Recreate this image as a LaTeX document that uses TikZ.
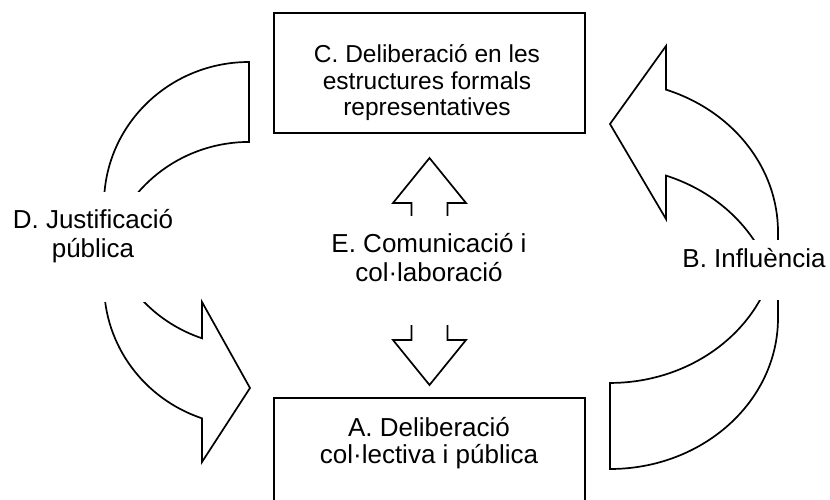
\documentclass[tikz,border=0pt]{standalone}
\usepackage{fontspec}
\setmainfont{Liberation Sans}
\begin{document}
\begin{tikzpicture}[x=1pt,y=-1pt,
  outline/.style={draw=black, line width=1.7pt, line join=miter},
  mask/.style={fill=white, draw=none},
  boxnode/.style={draw=black, line width=1.7pt, inner sep=0pt, outer sep=0pt, anchor=north west, minimum width=311pt, minimum height=120pt},
  lbl/.style={inner sep=0pt, align=center, anchor=base, font=\fontsize{26}{29}\selectfont}]
\useasboundingbox (0,0) rectangle (830,500);
\clip (0,0) rectangle (830,500);
% boxes
\node[boxnode] (Cbox) at (274,13) {};
\node[boxnode] (Abox) at (274,398) {};
% left curved arrow (D)
\draw[outline] (249,62) arc[start angle=270, end angle=180, x radius=145, y radius=142]
  -- (104,284) arc[start angle=180, end angle=108.91, x radius=145, y radius=142]
  -- (202,462) -- (250,388) -- (202,302) -- (202,338.3)
  arc[start angle=108.91, end angle=163.64, x radius=145, y radius=142]
  arc[start angle=196.36, end angle=270, x radius=145, y radius=142] -- cycle;
% right curved arrow (B)
\draw[outline] (610,469) arc[start angle=90, end angle=0, x radius=168, y radius=151]
  -- (778,232) arc[start angle=0, end angle=-70.53, x radius=168, y radius=151]
  -- (666,46) -- (610,124) -- (666,219) -- (666,175.6)
  arc[start angle=-70.53, end angle=-16.55, x radius=168, y radius=151]
  arc[start angle=16.55, end angle=90, x radius=168, y radius=151] -- cycle;
% middle up-down arrow (E)
\draw[outline] (429.5,158) -- (466,203) -- (447.5,203) -- (447.5,340) -- (466,340)
  -- (429.5,385) -- (393,340) -- (411.5,340) -- (411.5,203) -- (393,203) -- cycle;
% masks under the labels
\fill[mask] (0,192) rectangle (190,302);
\fill[mask] (680,240) rectangle (830,300);
\fill[mask] (300,216) rectangle (560,325);
% labels (anchor base = baseline of the last line)
\node[lbl, font=\fontsize{24.5}{26.5}\selectfont] (C) at (427,116) {C. Deliberació en les\\estructures formals\\representatives};
\node[lbl, font=\fontsize{26}{26.7}\selectfont] (A) at (429,463) {A. Deliberació\\col·lectiva i pública};
\node[lbl] (D) at (93,257.5) {D. Justificació\\pública};
\node[lbl] (E) at (429,281) {E. Comunicació i\\col·laboració};
\node[lbl] (B) at (754,267) {B. Influència};
\end{tikzpicture}
\end{document}
